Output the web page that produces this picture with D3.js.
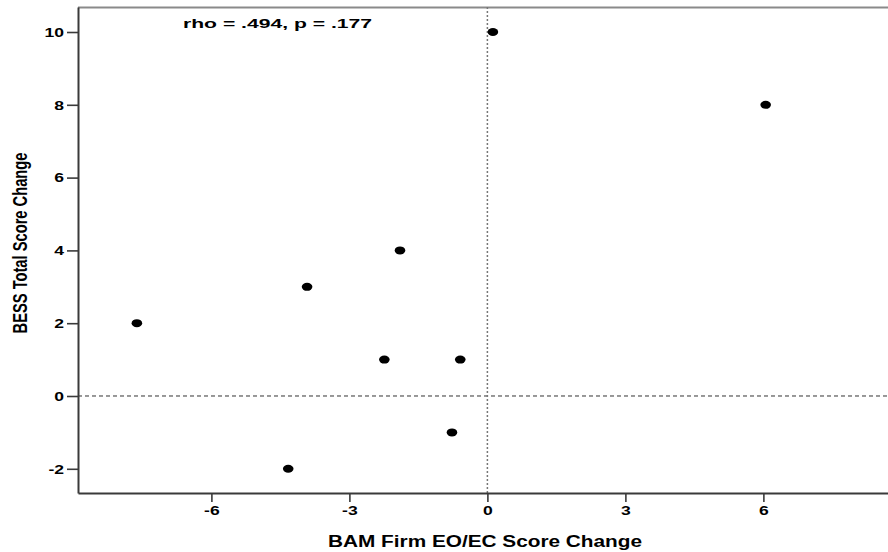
<!DOCTYPE html>
<html>
<head>
<meta charset="utf-8">
<script src="https://cdn.jsdelivr.net/npm/d3@7"></script>
<style>
  html, body { margin: 0; padding: 0; background: #fff; }
  svg { display: block; }
  text { font-family: Arial, "Liberation Sans", sans-serif; font-weight: bold; fill: #000; }
</style>
</head>
<body>
<svg id="chart" width="888" height="552"></svg>
<script>
// Change scores per participant
const eoecChange = [-7.62, -3.92, -1.90, -2.24, -0.59, -0.77, -4.33, 0.12, 6.05];
const bessChange = [2, 3, 4, 1, 1, -1, -2, 10, 8];
const xTicks = [-6, -3, 0, 3, 6];
const yTicks = [-2, 0, 2, 4, 6, 8, 10];
const statLabel = "rho = .494, p = .177";
const xTitle = "BAM Firm EO/EC Score Change";
const yTitle = "BESS Total Score Change";

const svg = d3.select("#chart");
const plotLeft = 78, plotRight = 900, plotTop = 7, plotBottom = 493;
const wide = 1.33; // horizontal widening of glyphs

const x = d3.scaleLinear().domain([-8.9, 8.97]).range([plotLeft, plotRight]);
const y = d3.scaleLinear().domain([-2.665, 10.687]).range([plotBottom, plotTop]);

// stretch a text element horizontally, keeping its anchor point
function widen(sel, factor) {
  sel.each(function () {
    const w = this.getComputedTextLength();
    d3.select(this).attr("textLength", w * factor).attr("lengthAdjust", "spacingAndGlyphs");
  });
}

// Frame top edge
svg.append("line")
  .attr("x1", plotLeft).attr("x2", plotRight)
  .attr("y1", plotTop + 0.5).attr("y2", plotTop + 0.5)
  .attr("stroke", "#8a8a8a").attr("stroke-width", 2);

// Reference lines at zero
svg.append("line")
  .attr("x1", plotLeft).attr("x2", plotRight)
  .attr("y1", y(0)).attr("y2", y(0))
  .attr("stroke", "#333").attr("stroke-width", 1)
  .attr("stroke-dasharray", "4,3");
svg.append("line")
  .attr("x1", x(0)).attr("x2", x(0))
  .attr("y1", plotTop).attr("y2", plotBottom)
  .attr("stroke", "#777").attr("stroke-width", 1.5)
  .attr("stroke-dasharray", "2,2");

// Axes
const xAxis = svg.append("g")
  .attr("transform", `translate(0,${plotBottom})`)
  .call(d3.axisBottom(x).tickValues(xTicks).tickSize(9).tickSizeOuter(0).tickPadding(3));
const yAxis = svg.append("g")
  .attr("transform", `translate(${plotLeft},0)`)
  .call(d3.axisLeft(y).tickValues(yTicks).tickSize(11).tickSizeOuter(0).tickPadding(3));

[xAxis, yAxis].forEach(g => {
  g.select(".domain").attr("stroke", "#3a3a3a").attr("stroke-width", 2);
  g.selectAll(".tick line").attr("stroke", "#3a3a3a").attr("stroke-width", 1.6);
  g.selectAll(".tick text")
    .attr("font-family", "Arial, 'Liberation Sans', sans-serif")
    .attr("font-weight", "bold").attr("font-size", 13.5).attr("fill", "#000")
    .text(d => String(d).replace("\u2212", "-"))
    .call(widen, 1.3);
});

// Points
svg.append("g").selectAll("ellipse")
  .data(eoecChange.map((v, i) => [v, bessChange[i]]))
  .join("ellipse")
  .attr("cx", d => x(d[0]))
  .attr("cy", d => y(d[1]))
  .attr("rx", 5.3).attr("ry", 4)
  .attr("fill", "#000");

// Correlation annotation
svg.append("text")
  .attr("x", 183).attr("y", 28)
  .attr("font-size", 13.5)
  .attr("textLength", 189).attr("lengthAdjust", "spacingAndGlyphs")
  .text(statLabel);

// Axis titles
svg.append("text")
  .attr("x", 328).attr("y", 547)
  .attr("font-size", 16)
  .attr("textLength", 314).attr("lengthAdjust", "spacingAndGlyphs")
  .text(xTitle);
svg.append("text")
  .attr("transform", `translate(27,243) scale(${wide},1) rotate(-90)`)
  .attr("text-anchor", "middle")
  .attr("font-size", 14.7)
  .text(yTitle);
</script>
</body>
</html>
